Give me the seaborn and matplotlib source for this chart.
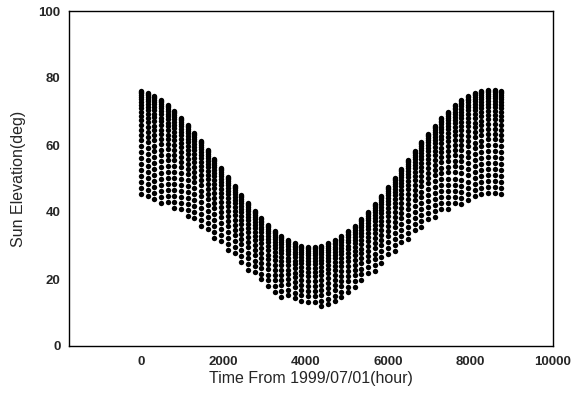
import pandas as pd
import numpy as np

import matplotlib
matplotlib.use('Agg')
import matplotlib.pyplot as plt
import seaborn as sns

# stripe positions (hours from 1999/07/01)
stripe_hour = [0, 162, 324, 486, 648, 810, 972, 1134, 1296, 1458, 1620, 1782, 1944, 2106,
               2268, 2430, 2592, 2754, 2916, 3078, 3240, 3402, 3564, 3726, 3888, 4050, 4212,
               4374, 4536, 4698, 4860, 5022, 5184, 5346, 5508, 5670, 5832, 5994, 6156, 6318,
               6480, 6642, 6804, 6966, 7128, 7290, 7452, 7614, 7776, 7938, 8100, 8262, 8424,
               8586, 8748]

# highest dot of each stripe (deg)
stripe_top = [76.2, 75.6, 74.6, 73.4, 71.9, 70.2, 68.2, 66.0, 63.7, 61.2, 58.6, 55.9, 53.2,
              50.5, 47.8, 45.2, 42.7, 40.3, 38.1, 36.1, 34.4, 32.9, 31.6, 30.7, 30.0, 29.7,
              29.7, 30.0, 30.6, 31.5, 32.7, 34.2, 35.9, 37.9, 40.1, 42.4, 44.9, 47.5, 50.2,
              52.9, 55.6, 58.3, 60.9, 63.4, 65.8, 68.0, 70.0, 71.8, 73.3, 74.5, 75.5, 76.1,
              76.5, 76.5, 76.2]

# lowest dot of each stripe (deg)
stripe_low = [44.3, 44.0, 43.5, 42.9, 42.1, 41.1, 40.0, 38.7, 37.2, 35.6, 33.9, 32.1, 30.3,
              28.4, 26.4, 24.6, 22.7, 21.0, 19.3, 17.8, 16.3, 15.0, 13.9, 13.1, 12.5, 12.1,
              11.9, 11.9, 12.2, 12.8, 13.7, 15.0, 16.6, 19.1, 20.8, 22.5, 24.3, 26.2, 28.1,
              30.1, 31.9, 33.7, 35.4, 37.1, 38.5, 39.8, 41.0, 42.0, 42.8, 43.4, 43.9, 44.3,
              44.5, 44.5, 44.3]

# dots inside a stripe: degrees below the stripe top (read from the first stripe)
dot_drop = [0, 0.3, 0.7, 1.2, 1.8, 2.5, 3.3, 4.2, 5.2, 6.3, 7.5, 8.8, 10.2, 11.7, 13.2,
            14.8, 16.5, 18.2, 20.0, 21.8, 23.6, 25.4, 27.2, 29.0, 30.8, 32.6]

rows = []
for h, top, low in zip(stripe_hour, stripe_top, stripe_low):
    for d in dot_drop:
        if top - d >= low - 0.3:
            rows.append({'hour': h, 'elev': top - d})
df = pd.DataFrame(rows)

sns.set_style("white")
plt.rcParams['font.family'] = ['Liberation Sans', 'DejaVu Sans']

fig = plt.figure(figsize=(5.71, 4.01), dpi=100)
ax = fig.add_axes([69 / 571, 1 - 346 / 401, (553 - 69) / 571, (346 - 11) / 401])

sns.scatterplot(data=df, x='hour', y='elev', color='black', s=15, linewidth=0, ax=ax)

ax.set_xlim(-1750, 10000)
ax.set_ylim(0, 100)
ax.set_xticks([0, 2000, 4000, 6000, 8000, 10000])
ax.set_yticks([0, 20, 40, 60, 80, 100])
ax.tick_params(axis='x', direction='in', length=3, width=0.8, labelsize=9.5, pad=7.5)
ax.tick_params(axis='y', direction='out', length=3, width=0.8, labelsize=9.5, pad=3)
for lab in ax.get_xticklabels() + ax.get_yticklabels():
    lab.set_fontweight('bold')
for sp in ax.spines.values():
    sp.set_color('black')
    sp.set_linewidth(1.0)

ax.set_xlabel('Time From 1999/07/01(hour)', fontsize=11.5, labelpad=2)
ax.set_ylabel('Sun Elevation(deg)', fontsize=11.5, labelpad=9)

fig.savefig('out.png', dpi=100)
